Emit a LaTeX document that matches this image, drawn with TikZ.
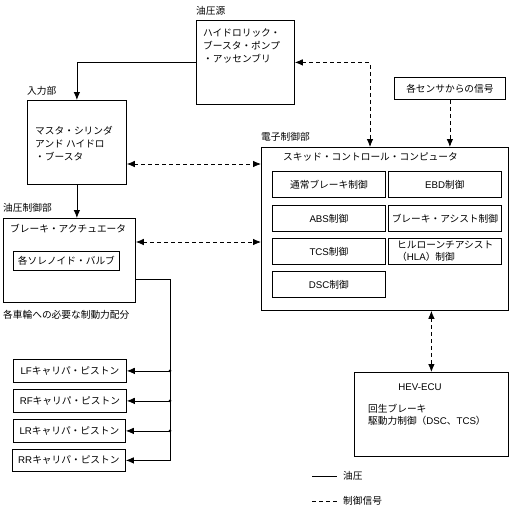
\documentclass[tikz,border=0pt]{standalone}
\usepackage{fontspec}
\setmainfont{Noto Sans CJK JP}
\newfontfamily\lat{Liberation Sans}
\usetikzlibrary{arrows.meta,calc}
\begin{document}
\begin{tikzpicture}[x=1pt,y=-1pt,
  font=\fontsize{9.7}{13}\selectfont,
  box/.style={draw, line width=0.8pt, inner sep=0pt, anchor=north west},
  lbl/.style={anchor=west, inner sep=0pt},
  txt/.style={anchor=north west, align=left, inner sep=0pt},
  tip/.tip={Latex[length=8pt,width=6.5pt]},
  hyd/.style={line width=0.8pt, -tip},
  sig/.style={line width=0.8pt, dash pattern=on 4pt off 3pt, -tip},
  sigtwo/.style={line width=0.8pt, dash pattern=on 4pt off 3pt, tip-tip}]
\useasboundingbox (0,0) rectangle (513,512);

% hydraulic source
\node[lbl] (srclbl) at (196,11) {油圧源};
\node[box, minimum width=98pt, minimum height=84pt] (src) at (196,20) {};
\node[txt] (srctxt) at (203,28) {ハイドロリック・\\ブースタ・ポンプ\\・アッセンブリ};

% input
\node[lbl] (inplbl) at (27,91) {入力部};
\node[box, minimum width=99pt, minimum height=84pt] (inp) at (27,100) {};
\node[txt] (inptxt) at (35,126) {マスタ・シリンダ\\アンド ハイドロ\\・ブースタ};

% actuator
\node[lbl] (actlbl) at (3,208) {油圧制御部};
\node[box, minimum width=132pt, minimum height=84pt] (act) at (3,218) {};
\node[lbl] (acttitle) at (10,229) {ブレーキ・アクチュエータ};
\node[box, minimum width=106pt, minimum height=19pt] (sol) at (13,251) {};
\node (soltxt) at (sol.center) {各ソレノイド・バルブ};
\node[lbl] (caption) at (3,315) {各車輪への必要な制動力配分};

% calipers
\node[box, minimum width=113pt, minimum height=23pt] (lf) at (13,359) {};
\node (lftxt) at (lf.center) {{\lat LF}キャリパ・ピストン};
\node[box, minimum width=113pt, minimum height=23pt] (rf) at (13,389) {};
\node (rftxt) at (rf.center) {{\lat RF}キャリパ・ピストン};
\node[box, minimum width=112pt, minimum height=23pt] (lr) at (13,419) {};
\node (lrtxt) at (lr.center) {{\lat LR}キャリパ・ピストン};
\node[box, minimum width=113pt, minimum height=22pt] (rr) at (12,449) {};
\node (rrtxt) at (rr.center) {{\lat RR}キャリパ・ピストン};

% ECU
\node[lbl] (eculbl) at (261,137) {電子制御部};
\node[box, minimum width=247pt, minimum height=163pt] (ecu) at (261,147) {};
\node[lbl] (ecutitle) at (283,157) {スキッド・コントロール・コンピュータ};
\node[box, minimum width=113pt, minimum height=26pt] (c1) at (272,171) {};
\node (c1t) at (c1.center) {通常ブレーキ制御};
\node[box, minimum width=113pt, minimum height=26pt] (c2) at (388,171) {};
\node (c2t) at (c2.center) {{\lat EBD}制御};
\node[box, minimum width=113pt, minimum height=26pt] (c3) at (272,205) {};
\node (c3t) at (c3.center) {{\lat ABS}制御};
\node[box, minimum width=113pt, minimum height=26pt] (c4) at (388,205) {};
\node (c4t) at (c4.center) {ブレーキ・アシスト制御};
\node[box, minimum width=113pt, minimum height=26pt] (c5) at (272,238) {};
\node (c5t) at (c5.center) {{\lat TCS}制御};
\node[box, minimum width=113pt, minimum height=26pt] (c6) at (388,238) {};
\node[txt, font=\fontsize{9.7}{12.5}\selectfont] (c6t) at (397,240.5) {ヒルローンチアシスト\\（{\lat HLA}）制御};
\node[box, minimum width=113pt, minimum height=26pt] (c7) at (272,271) {};
\node (c7t) at (c7.center) {{\lat DSC}制御};

% sensors
\node[box, minimum width=111pt, minimum height=22pt] (sens) at (394,77) {};
\node (senstxt) at (sens.center) {各センサからの信号};

% HEV-ECU
\node[box, minimum width=154pt, minimum height=84pt] (hev) at (354,372) {};
\node (hevtitle) at (420,387) {\lat HEV-ECU};
\node[txt, font=\fontsize{9.7}{12}\selectfont] (hevtxt) at (368,404) {回生ブレーキ\\駆動力制御（{\lat DSC}、{\lat TCS}）};

% legend
\coordinate (lega) at (312,476);
\coordinate (legb) at (337,476);
\coordinate (legc) at (312,501);
\coordinate (legd) at (337,501);
\draw[line width=0.8pt] (lega) -- (legb);
\draw[line width=0.8pt, dash pattern=on 4pt off 3pt] (legc) -- (legd);
\node[lbl] (legtxta) at (343,476) {油圧};
\node[lbl] (legtxtb) at (343,501) {制御信号};

% connectors
\coordinate (ya) at (0,164);
\coordinate (yb) at (0,242);
\coordinate (xa) at (370,0);
\coordinate (bus) at (170,279);

\draw[hyd] (src.west) -| (inp.north);
\draw[hyd] (inp.south) -- (inp.south |- act.north);
\draw[sigtwo] (inp.east |- ya) -- (ecu.west |- ya);
\draw[sigtwo] (act.east |- yb) -- (ecu.west |- yb);
\draw[sigtwo] (src.east) -| (ecu.north -| xa);
\draw[sig] (sens.south) -- (sens.south |- ecu.north);
\draw[sigtwo] (hev.north |- ecu.south) -- (hev.north);

\draw[hyd] (act.east |- bus) -- (bus) |- (rr.east);
\draw[hyd] (lf.east -| bus) -- (lf.east);
\draw[hyd] (rf.east -| bus) -- (rf.east);
\draw[hyd] (lr.east -| bus) -- (lr.east);
\fill (lf.east -| bus) circle (1.5pt);
\fill (rf.east -| bus) circle (1.5pt);
\fill (lr.east -| bus) circle (1.5pt);
\end{tikzpicture}
\end{document}
